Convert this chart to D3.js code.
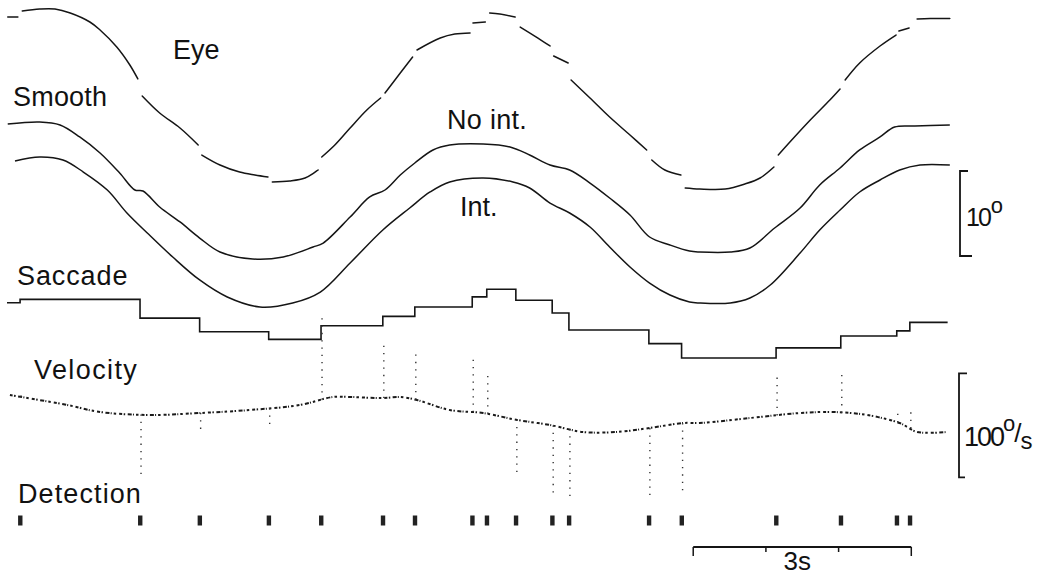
<!DOCTYPE html>
<html>
<head>
<meta charset="utf-8">
<script src="https://cdn.jsdelivr.net/npm/d3@7"></script>
<style>
  html, body { margin: 0; padding: 0; background: #fff; }
  svg { display: block; }
  text { font-family: "Liberation Sans", Arial, sans-serif; fill: #111; }
</style>
</head>
<body>
<svg id="chart" width="1047" height="575"></svg>
<script>
// ---- recorded traces (time in s, position in deg, velocity in deg/s) ----

// Eye position, split at each saccade
const eyeSegments = [
  [[0.01, 9.53], [0.15, 9.53]],
  [[0.21, 10.24], [0.45, 10.47], [0.66, 10.47], [0.87, 10.0], [1.14, 8.94], [1.28, 8.0], [1.51, 6.0], [1.69, 3.88], [1.80, 2.24]],
  [[1.86, 0.24], [2.10, -1.76], [2.38, -3.53], [2.63, -5.53]],
  [[2.68, -6.71], [2.93, -7.88], [3.20, -8.71], [3.41, -9.06], [3.59, -9.29]],
  [[3.65, -9.88], [3.89, -9.76], [4.10, -9.41], [4.28, -8.47]],
  [[4.33, -6.94], [4.51, -5.53], [4.72, -3.53], [4.95, -1.41], [5.14, 0]],
  [[5.20, 0.59], [5.41, 2.94], [5.58, 4.82]],
  [[5.64, 5.65], [5.96, 7.06], [6.16, 7.53], [6.37, 7.65]],
  [[6.41, 8.82], [6.58, 8.94]],
  [[6.64, 10.0], [6.78, 9.88], [6.99, 9.53]],
  [[7.06, 8.35], [7.26, 7.29], [7.47, 6.12]],
  [[7.52, 4.94], [7.72, 4.12]],
  [[7.76, 2.12], [8.02, 0], [8.29, -2.24], [8.57, -4.35], [8.80, -6.12]],
  [[8.87, -7.29], [9.05, -8.47], [9.27, -9.06]],
  [[9.33, -10.59], [9.53, -10.71], [9.88, -10.71], [10.15, -10.12], [10.36, -9.41], [10.55, -8.12]],
  [[10.61, -6.71], [10.77, -5.18], [11.05, -2.59], [11.32, -0.24], [11.46, 1.06]],
  [[11.53, 2.12], [11.73, 4.12], [12.01, 6.12], [12.23, 7.41]],
  [[12.27, 7.88], [12.41, 8.24]],
  [[12.52, 9.29], [12.70, 9.35], [12.97, 9.35]]
];

// Smooth component, no integration
const smoothNoInt = [
  [0.01, 7.76], [0.45, 8.0], [0.73, 7.65], [1.0, 6.24], [1.28, 4.35], [1.55, 2.0], [1.76, 0], [1.87, -0.12],
  [2.10, -2.0], [2.38, -3.76], [2.65, -5.65], [2.93, -7.29], [3.38, -8.12], [3.80, -7.88], [4.21, -6.71],
  [4.35, -6.24], [4.72, -3.18], [4.99, -0.82], [5.20, 0], [5.41, 1.76], [5.61, 3.18], [5.86, 4.71],
  [6.09, 5.29], [6.55, 5.41], [6.92, 5.06], [7.19, 4.12], [7.47, 2.94], [7.74, 2.35], [8.02, 0.82],
  [8.29, -0.94], [8.57, -2.94], [8.84, -5.53], [9.12, -6.47], [9.39, -7.18], [9.53, -7.29], [9.95, -7.29],
  [10.22, -6.82], [10.56, -4.47], [10.91, -2.12], [11.18, 0.59], [11.46, 2.59], [11.73, 4.71],
  [12.01, 6.24], [12.21, 7.41], [12.49, 7.53], [12.97, 7.65]
];

// Smooth component, integrated
const smoothInt = [
  [0.11, 8.71], [0.45, 9.18], [0.77, 8.82], [1.05, 7.41], [1.38, 5.29], [1.65, 2.59], [1.93, 0.24],
  [2.28, -2.59], [2.65, -5.29], [3.03, -7.29], [3.48, -8.47], [3.93, -8.0], [4.31, -6.71], [4.72, -3.29],
  [5.17, 0.59], [5.54, 3.18], [5.82, 5.06], [6.09, 6.24], [6.55, 6.71], [6.96, 6.24], [7.19, 5.53],
  [7.47, 3.76], [7.74, 2.59], [8.02, 0.94], [8.29, -1.41], [8.57, -3.76], [8.84, -5.65], [9.12, -7.06],
  [9.39, -7.88], [9.53, -8.0], [9.95, -8.0], [10.22, -7.41], [10.50, -5.88], [10.91, -2.12], [11.18, 0.59],
  [11.46, 2.94], [11.73, 5.06], [12.01, 6.47], [12.28, 7.65], [12.56, 8.24], [12.97, 8.24]
];

// Detected saccades: onset times, position level after each one, and velocity peak
const saccadeTimes = [0.18, 1.83, 2.65, 3.60, 4.32, 5.17, 5.61, 6.40, 6.60, 7.00, 7.50, 7.73, 8.83, 9.28, 10.58, 11.47, 12.24, 12.42];
const saccadeStart = 3.2;
const saccadeLevels = [3.6, 1.4, -0.2, -1.1, 0.5, 1.6, 2.7, 3.9, 4.8, 3.5, 2.0, 0, -1.6, -3.3, -2.1, -0.7, -0.1, 0.9];
const saccadePeaks = [6, -62, -21, -19, 82, 56, 45, 56, 41, -55, -65, -65, -65, -65, 40, 38, 14, 17];
const traceEnd = 12.94;

// Eye velocity (slow phase)
const velocity = [
  [0.04, 19.2], [0.83, 9.6], [1.28, 2.9], [1.97, 0], [2.65, 1.9], [3.34, 4.8], [4.03, 9.6], [4.48, 17.3],
  [4.72, 17.3], [5.17, 16.3], [5.41, 17.3], [5.64, 14.4], [6.09, 4.8], [6.55, 1.9], [7.02, -4.8],
  [7.47, -9.6], [7.92, -16.3], [8.39, -16.3], [8.84, -12.5], [9.30, -7.7], [9.53, -7.7], [10.22, -2.9],
  [10.91, 1.9], [11.36, 2.9], [11.83, 0], [12.28, -7.7], [12.52, -16.3], [12.93, -16.3]
];

// Calibration bars
const posCal = 10;      // deg
const velCal = 100;     // deg/s
const timeCal = 3;      // s
const timeCalStart = 9.44;

// ---- layout ----
const svg = d3.select("#chart");
svg.append("rect").attr("width", 1047).attr("height", 575).attr("fill", "#fff");

const x = d3.scaleLinear().domain([0, 13]).range([7, 952]);
const PX_PER_DEG = 8.5;
const degScale = base => d3.scaleLinear().domain([-10, 10]).range([base + 10 * PX_PER_DEG, base - 10 * PX_PER_DEG]);
const yEye = degScale(98);
const yNoInt = degScale(190);
const yInt = degScale(235);
const ySac = degScale(330);
const yVel = d3.scaleLinear().domain([-50, 50]).range([415 + 52, 415 - 52]);

const ink = "#151515";
const lineFor = y => d3.line().x(d => x(d[0])).y(d => y(d[1])).curve(d3.curveCatmullRom.alpha(0.5));

// Eye position
svg.append("g").selectAll("path").data(eyeSegments).join("path")
  .attr("d", lineFor(yEye))
  .attr("fill", "none").attr("stroke", ink).attr("stroke-width", 1.5).attr("stroke-linecap", "round");

// Smooth traces
svg.append("path").datum(smoothNoInt).attr("d", lineFor(yNoInt))
  .attr("fill", "none").attr("stroke", ink).attr("stroke-width", 1.5);
svg.append("path").datum(smoothInt).attr("d", lineFor(yInt))
  .attr("fill", "none").attr("stroke", ink).attr("stroke-width", 1.5);

// Saccade staircase
const sacPoints = [[0, saccadeStart]].concat(saccadeTimes.map((t, i) => [t, saccadeLevels[i]]), [[traceEnd, saccadeLevels[saccadeLevels.length - 1]]]);
svg.append("path").datum(sacPoints)
  .attr("d", d3.line().x(d => x(d[0])).y(d => ySac(d[1])).curve(d3.curveStepAfter))
  .attr("fill", "none").attr("stroke", ink).attr("stroke-width", 1.6);

// Velocity trace: speckled, with saccade spikes
svg.append("path").datum(velocity).attr("d", lineFor(yVel))
  .attr("fill", "none").attr("stroke", "#1a1a1a").attr("stroke-width", 2)
  .attr("stroke-dasharray", "3 1.5 1.5 2.5 4 1.2 1 2 2.5 3");

const velAt = t => {
  const i = Math.max(1, Math.min(velocity.length - 1, d3.bisector(d => d[0]).left(velocity, t)));
  const a = velocity[i - 1], b = velocity[i];
  return a[1] + (b[1] - a[1]) * (t - a[0]) / (b[0] - a[0]);
};
svg.append("g").selectAll("line").data(saccadeTimes).join("line")
  .attr("x1", t => x(t) + 1).attr("x2", t => x(t) + 1)
  .attr("y1", t => yVel(velAt(t)))
  .attr("y2", (t, i) => yVel(velAt(t) + saccadePeaks[i]))
  .attr("stroke", "#333").attr("stroke-width", 1.4).attr("stroke-dasharray", "1.3 6");

// Detection marks
svg.append("g").selectAll("rect").data(saccadeTimes).join("rect")
  .attr("x", t => x(t) - 2).attr("y", 515.5).attr("width", 4.4).attr("height", 10)
  .attr("fill", "#222");

// ---- labels ----
const label = (txt, lx, ly, spacing) => svg.append("text").attr("x", lx).attr("y", ly)
  .attr("font-size", 27).attr("letter-spacing", spacing).text(txt);
label("Eye", 173, 59, 0);
label("Smooth", 13, 106, 0.2);
label("No int.", 447, 129, 0.3);
label("Int.", 460, 216, 0);
label("Saccade", 17, 285, 0.9);
label("Velocity", 34, 379, 1.4);
label("Detection", 18, 503, 1.1);

// Position calibration bracket
const calX = 960;
const posTop = 171, posLen = posCal * PX_PER_DEG;
svg.append("path")
  .attr("d", `M${calX + 8},${posTop} H${calX} V${posTop + posLen} H${calX + 12}`)
  .attr("fill", "none").attr("stroke", ink).attr("stroke-width", 1.8);
const t10 = svg.append("text").attr("x", 966).attr("y", 226);
t10.append("tspan").attr("font-size", 25).attr("letter-spacing", -2).text("10");
t10.append("tspan").attr("font-size", 22).attr("dy", -13).attr("dx", 1).text("o");

// Velocity calibration bracket
const velTop = yVel(40), velBottom = yVel(40 - velCal);
svg.append("path")
  .attr("d", `M${calX + 7},${velTop} H${calX - 1} V${velBottom} H${calX + 5}`)
  .attr("fill", "none").attr("stroke", ink).attr("stroke-width", 1.8);
const t100 = svg.append("text").attr("x", 964).attr("y", 446);
t100.append("tspan").attr("font-size", 27).attr("letter-spacing", -2).text("100");
t100.append("tspan").attr("font-size", 22).attr("dy", -15).attr("dx", 0).text("o");
t100.append("tspan").attr("font-size", 26).attr("dy", 11).attr("dx", -1).text("/");
t100.append("tspan").attr("font-size", 24).attr("dy", 7).attr("dx", -1).text("s");

// Time calibration bar
const barY = 547;
const x0 = x(timeCalStart), x1 = x(timeCalStart + timeCal);
svg.append("line").attr("x1", x0).attr("x2", x1).attr("y1", barY).attr("y2", barY)
  .attr("stroke", ink).attr("stroke-width", 1.8);
svg.append("g").selectAll("line").data(d3.range(0, timeCal + 1)).join("line")
  .attr("x1", s => x(timeCalStart + s)).attr("x2", s => x(timeCalStart + s))
  .attr("y1", barY).attr("y2", s => (s === 0 || s === timeCal) ? barY + 9 : barY + 5)
  .attr("stroke", ink).attr("stroke-width", 1.5);
svg.append("text").attr("x", (x0 + x1) / 2 - 5).attr("y", 570)
  .attr("text-anchor", "middle").attr("font-size", 26).text(timeCal + "s");
</script>
</body>
</html>
